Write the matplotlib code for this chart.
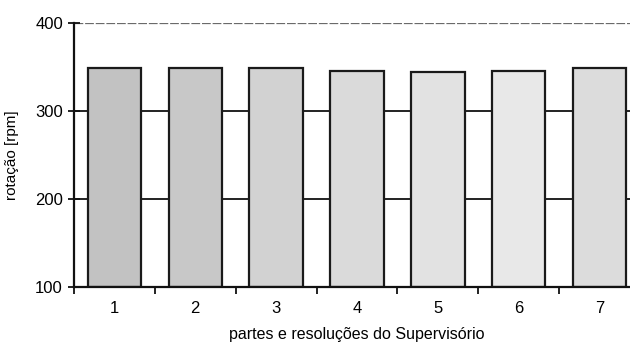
import matplotlib
matplotlib.use("Agg")
import matplotlib.pyplot as plt
from matplotlib.ticker import FixedLocator

plt.rcParams['font.family'] = ['Liberation Sans', 'DejaVu Sans']

categories = ["1", "2", "3", "4", "5", "6", "7"]
rotation_rpm = [349, 349, 349, 346, 344, 346, 349]
bar_colors = ["#c2c2c2", "#c8c8c8", "#d2d2d2", "#dadada", "#e2e2e2", "#e8e8e8", "#dcdcdc"]
y_ticks = [100, 200, 300, 400]

fig = plt.figure(figsize=(6.30, 3.44), dpi=100)
ax = fig.add_axes([74 / 630, 1 - 287 / 344, (640 - 74) / 630, (287 - 23) / 344])

x = list(range(len(categories)))

# horizontal grid lines behind the bars
for yv in y_ticks[1:3]:
    ax.axhline(yv, color="#111111", lw=1.3, zorder=0)
ax.axhline(400, color="#6a6a6a", lw=0.9, ls=(0, (7, 1.5)), zorder=0)

ax.bar(x, [v - 100 for v in rotation_rpm], bottom=100, width=0.66,
       color=bar_colors, edgecolor="#1a1a1a", linewidth=1.6, zorder=2)

ax.set_xlim(-0.5, len(categories) - 0.5)
ax.set_ylim(100, 400)
ax.set_yticks(y_ticks)
ax.set_xticks(x)
ax.set_xticklabels(categories)
ax.xaxis.set_minor_locator(FixedLocator([i - 0.5 for i in range(len(categories) + 1)]))
ax.tick_params(axis="x", which="major", length=0, pad=10, labelsize=12)
ax.tick_params(axis="x", which="minor", length=5, width=1.3, direction="out", color="#111111")
ax.tick_params(axis="y", length=8, width=1.3, direction="inout", labelsize=12, pad=4, color="#111111")

for side in ("top", "right"):
    ax.spines[side].set_visible(False)
for side in ("left", "bottom"):
    ax.spines[side].set_linewidth(1.6)
    ax.spines[side].set_color("#111111")

ax.set_ylabel("rotação [rpm]", fontsize=11, labelpad=6)
ax.set_xlabel("partes e resoluções do Supervisório", fontsize=11.5, labelpad=8)
ax.yaxis.set_label_coords(-0.098, 0.5)

fig.savefig("out.png", dpi=100)
